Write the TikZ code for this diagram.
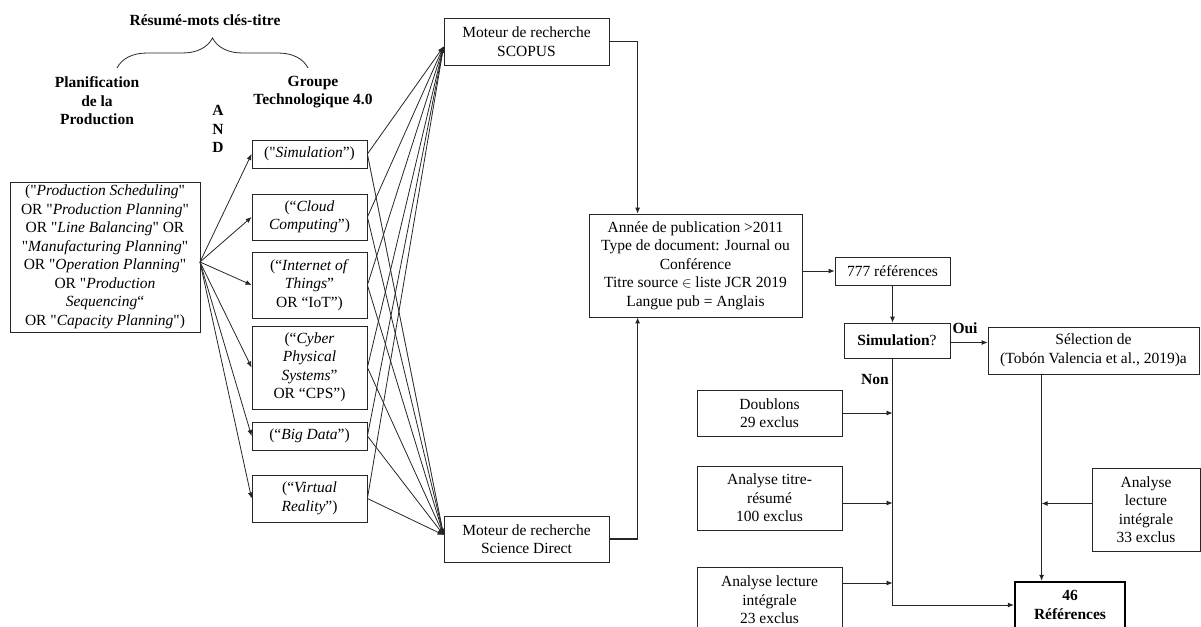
\documentclass[tikz,border=0pt]{standalone}
\usepackage{fontspec}
\setmainfont{Liberation Serif}[Ligatures=TeXOff]
\usetikzlibrary{arrows.meta,decorations.pathreplacing,calc}
\begin{document}
\begin{tikzpicture}[x=1pt,y=-1pt,
  every node/.style={font=\fontsize{15.5}{18.5}\selectfont, inner sep=1pt},
  box/.style={draw=black!85, line width=0.8pt, align=center, minimum width=#1},
  box/.default=115pt,
  lbl/.style={align=center, font=\fontsize{15.5}{18.5}\selectfont\bfseries},
  arr/.style={draw=black!85, line width=0.8pt, -{Latex[length=6pt,width=5pt]}},
  ln/.style={draw=black!85, line width=0.8pt}]
\useasboundingbox (0,0) rectangle (1201,626);

% headings
\node[lbl] (title) at (205,20) {Résumé-mots clés-titre};
\draw[ln, decorate, decoration={brace, amplitude=30pt}] (117,68) -- (308,68);
\node[lbl] (plan) at (97,101) {Planification\\de la\\Production};
\node[lbl] (grp) at (313,92) {Groupe\\Technologique 4.0};
\node[lbl] (and) at (218,129) {A\\N\\D};

% left box
\node[box=190pt, minimum height=150pt] (left) at (105,257)
  {("\textit{Production Scheduling}"\\
   OR "\textit{Production Planning}"\\
   OR "\textit{Line Balancing}" OR\\
   "\textit{Manufacturing Planning}"\\
   OR "\textit{Operation Planning}"\\
   OR "\textit{Production}\\
   \textit{Sequencing}“\\
   OR "\textit{Capacity Planning}")};

% technology boxes
\node[box, minimum height=28pt] (sim) at (309.5,154) {("\textit{Simulation}”)};
\node[box, minimum height=46pt] (cloud) at (309.5,217) {(“\textit{Cloud}\\\textit{Computing}”)};
\node[box, minimum height=66pt] (iot) at (309.5,285) {(“\textit{Internet of}\\\textit{Things}”\\OR “IoT”)};
\node[box, minimum height=83pt] (cps) at (309.5,367.5) {(“\textit{Cyber}\\\textit{Physical}\\\textit{Systems}”\\OR “CPS”)};
\node[box, minimum height=28pt] (big) at (309.5,436) {(“\textit{Big Data}”)};
\node[box, minimum height=47pt] (vr) at (309.5,498.5) {(“\textit{Virtual}\\\textit{Reality}”)};

% search engines
\node[box=165pt, minimum height=47pt] (scopus) at (526.5,41.5) {Moteur de recherche\\SCOPUS};
\node[box=165pt, minimum height=46pt] (sd) at (526.5,539) {Moteur de recherche\\Science Direct};

% filter box
\node[box=213pt, minimum height=103pt] (annee) at (695.5,265.5)
  {Année de publication >2011\\Type de document: Journal ou\\Conférence\\Titre source $\in$ liste JCR 2019\\Langue pub = Anglais};

\node[box, minimum height=28pt] (r777) at (892.5,271) {777 références};
\node[box=106pt, minimum height=35pt] (simq) at (897,340.5) {\textbf{Simulation}?};
\node[box=211pt, minimum height=47pt] (sel) at (1093.5,350.5) {Sélection de\\(Tobón Valencia et al., 2019)a};

\node[box=145pt, minimum height=46pt] (doub) at (769.5,413) {Doublons\\29 exclus};
\node[box=145pt, minimum height=64pt] (titre) at (769.5,498) {Analyse titre-\\résumé\\100 exclus};
\node[box=145pt, minimum height=66pt] (lec23) at (769.5,600) {Analyse lecture\\intégrale\\23 exclus};
\node[box=108pt, minimum height=83pt] (lec33) at (1146,509.5) {Analyse\\lecture\\intégrale\\33 exclus};
\node[box=110pt, minimum height=46pt, line width=2.4pt, draw=black] (r46) at (1070,605) {\textbf{46}\\\textbf{Références}};

% left fan
\coordinate (fanL) at (200,262);
\foreach \b in {sim,cloud,iot,cps,big,vr}
  \draw[arr] (fanL) -- (\b.west);

% middle fan
\coordinate (scIn) at ([yshift=-5pt]scopus.west);
\coordinate (sdIn) at ([yshift=4pt]sd.west);
\foreach \b in {sim,cloud,iot,cps,big,vr}{
  \draw[arr] (\b.east) -- (scIn);
  \draw[arr] (\b.east) -- (sdIn);
}

% to filter box
\draw[arr] (scopus.east) -| ([xshift=49pt]annee.north west);
\draw[arr, line width=1.6pt] (sd.east) -| ([xshift=49pt]annee.south west);
\draw[arr] (annee.east |- r777.west) -- (r777.west);
\draw[arr] (r777.south) -- (r777.south |- simq.north);
\draw[arr] ([yshift=-2pt]simq.east) -- ([yshift=-2pt]simq.east -| sel.west);
\node[lbl] (oui) at (965,328) {Oui};
\node[lbl] (non) at (875,379) {Non};

% Non branch
\coordinate (vx) at (r777.south |- simq.south);
\draw[arr] (vx) -- (vx |- r46.west) -- (r46.west);
\draw[arr] (doub.east) -- (doub.east -| vx);
\draw[arr] ([yshift=-5pt]titre.east) -- ([yshift=-5pt]titre.east -| vx);
\draw[arr] ([yshift=17pt]lec23.east) -- ([yshift=17pt]lec23.east -| vx);

% Oui branch
\coordinate (sx) at ([xshift=54pt]sel.south west);
\draw[arr] (sx) -- (sx |- r46.north);
\draw[arr] ([yshift=6pt]lec33.west) -- ([yshift=6pt]lec33.west -| sx);
\end{tikzpicture}
\end{document}
